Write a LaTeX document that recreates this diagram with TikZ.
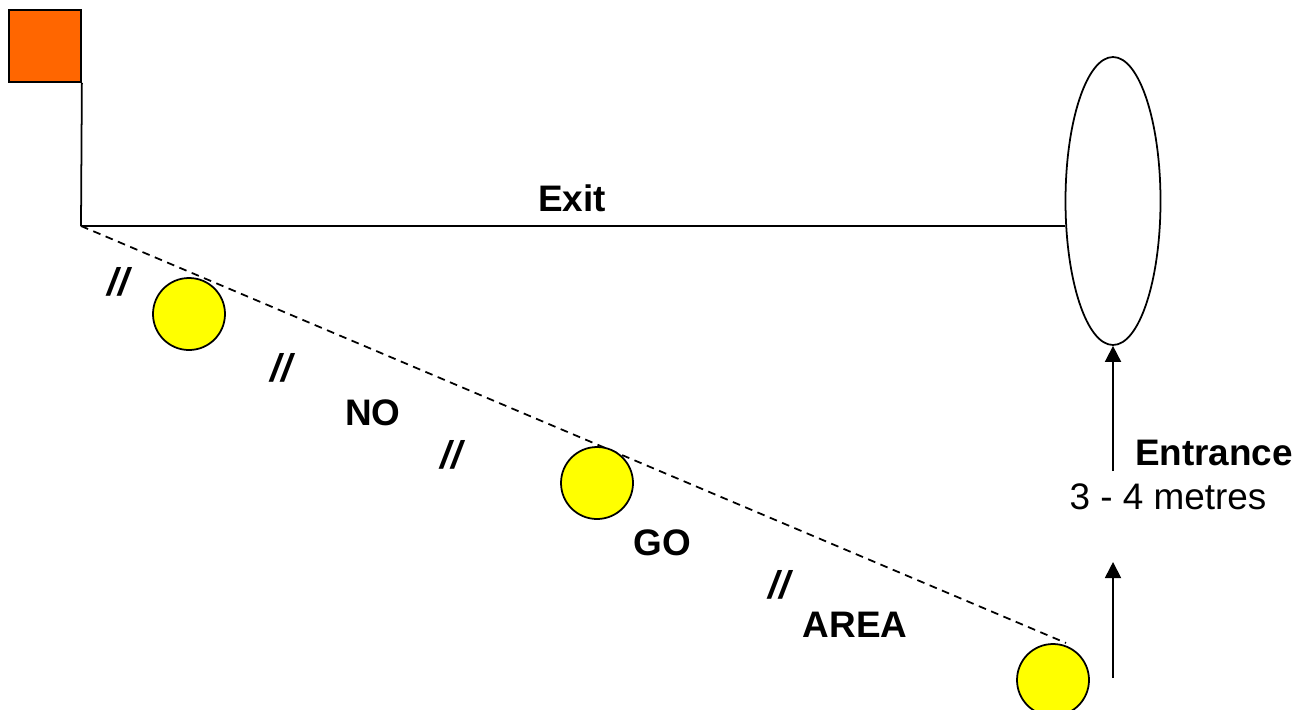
\documentclass[tikz,border=0pt]{standalone}
\usepackage{fontspec}
\setmainfont{Liberation Sans}
\usetikzlibrary{arrows.meta,shapes.geometric}
\definecolor{flagorange}{RGB}{255,102,0}
\definecolor{coneyellow}{RGB}{255,255,0}
\tikzset{
  flag/.style={draw=black, line width=0.5pt, fill=flagorange, minimum size=0.72cm, inner sep=0pt},
  cone/.style={circle, draw=black, line width=0.5pt, fill=coneyellow, minimum size=0.72cm, inner sep=0pt},
  gate/.style={ellipse, draw=black, line width=0.5pt, minimum width=0.95cm, minimum height=2.88cm, inner sep=0pt},
  lbl/.style={font=\fontsize{10.5}{12}\selectfont\bfseries, inner sep=1pt},
  plain/.style={font=\fontsize{10.5}{12}\selectfont, inner sep=1pt},
  slash/.style={font=\fontsize{11}{12}\selectfont\bfseries\itshape, inner sep=1pt},
  line/.style={line width=0.5pt, draw=black},
  arrow/.style={-{Triangle[length=1.6mm, width=1.6mm]}, line width=0.5pt, draw=black}
}
\begin{document}
\begin{tikzpicture}
  \useasboundingbox (0,0) rectangle (13.05,7.09);
  % flag, gate and corners
  \node[flag] (flag) at (0.45,6.63) {};
  \coordinate (corner) at (0.81,4.83);
  \coordinate (lineend) at (10.66,0.66);
  \node[gate] (gate) at (11.13,5.08) {};
  \draw[line] (flag.south east) -- (corner);
  \draw[line] (corner) -- (corner -| gate.west);
  \draw[line, dash pattern=on 2.2pt off 1.6pt] (corner) -- (lineend);
  % cones
  \node[cone] (cone1) at (1.89,3.95) {};
  \node[cone] (cone2) at (5.97,2.26) {};
  \node[cone] (cone3) at (10.53,0.29) {};
  % entrance arrows
  \coordinate (upstart) at (11.13,2.38);
  \coordinate (lowstart) at (11.13,0.31);
  \coordinate (lowend) at (11.13,1.47);
  \draw[arrow] (upstart) -- (gate.south);
  \draw[arrow] (lowstart) -- (lowend);
  % labels
  \node[lbl] (exit) at (5.72,5.11) {Exit};
  \node[lbl] (entrance) at (12.14,2.56) {Entrance};
  \node[plain] (metres) at (11.68,2.12) {3 - 4 metres};
  \node[lbl] (no) at (3.73,2.96) {NO};
  \node[lbl] (go) at (6.62,1.66) {GO};
  \node[lbl] (area) at (8.55,0.84) {AREA};
  \node[slash] (s1) at (1.18,4.27) {//};
  \node[slash] (s2) at (2.81,3.41) {//};
  \node[slash] (s3) at (4.51,2.54) {//};
  \node[slash] (s4) at (7.79,1.24) {//};
\end{tikzpicture}
\end{document}
